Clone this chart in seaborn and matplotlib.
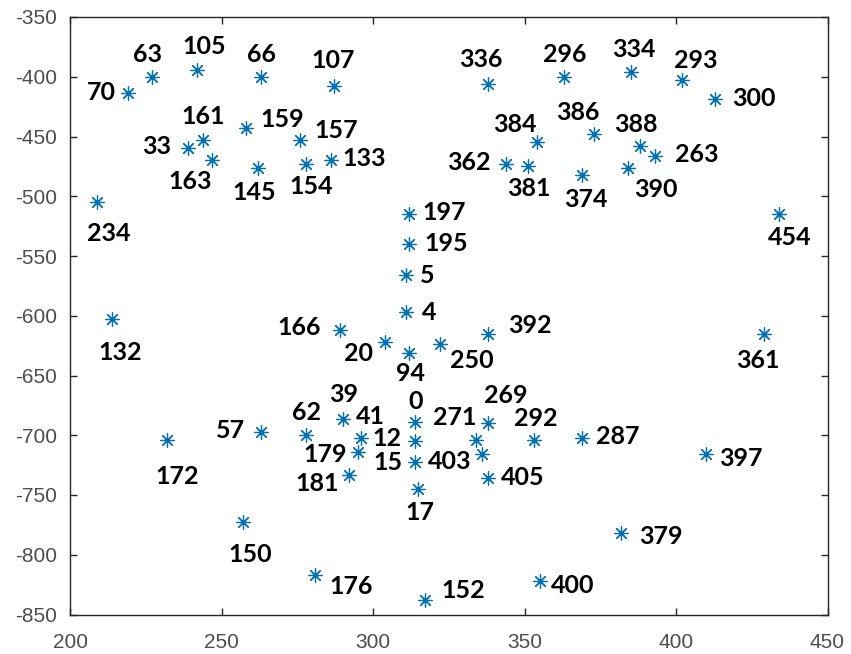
import matplotlib
matplotlib.use("Agg")
import matplotlib.pyplot as plt
import pandas as pd
import seaborn as sns

# landmark ids and their (x, y) positions
LABELS = [70, 63, 105, 66, 107, 161, 33, 163, 159, 145, 157, 154, 133, 234,
          336, 296, 334, 293, 300, 384, 386, 388, 263, 362, 381, 374, 390, 454,
          197, 195, 5, 4, 132, 166, 20, 94, 250, 392, 361,
          172, 57, 62, 39, 41, 179, 181, 0, 12, 15, 17, 150, 176, 152,
          269, 271, 403, 405, 292, 287, 397, 379, 400]
X = [219, 227, 242, 263, 287, 244, 239, 247, 258, 262, 276, 278, 286, 209,
     338, 363, 385, 402, 413, 354, 373, 388, 393, 344, 351, 369, 384, 434,
     312, 312, 311, 311, 214, 289, 304, 312, 322, 338, 429,
     232, 263, 278, 290, 296, 295, 292, 314, 314, 314, 315, 257, 281, 317,
     338, 334, 336, 338, 353, 369, 410, 382, 355]
Y = [-414, -400, -394, -400, -408, -453, -460, -470, -443, -476, -453, -473, -470, -505,
     -406, -400, -396, -403, -419, -455, -448, -458, -466, -473, -475, -482, -476, -515,
     -515, -540, -566, -597, -603, -612, -622, -631, -624, -615, -615,
     -704, -697, -700, -686, -702, -714, -733, -689, -705, -722, -745, -773, -817, -838,
     -690, -704, -716, -736, -704, -702, -716, -782, -822]

# where each id label sits relative to its marker (pixels, +y = down)
LABEL_OFFSETS = {
    70: (-26, -1), 63: (-4, -22), 105: (7, -23), 66: (1, -22), 107: (0, -26),
    161: (0, -24), 33: (-32, -2), 163: (-22, 21), 159: (36, -9), 145: (-4, 25),
    157: (36, -10), 154: (5, 23), 133: (34, -2), 234: (11, 31),
    336: (-7, -24), 296: (1, -22), 334: (3, -22), 293: (14, -20), 300: (38, -1),
    384: (-22, -18), 386: (-16, -22), 388: (-4, -22), 263: (42, -1), 362: (-37, -1),
    381: (1, 22), 374: (4, 25), 390: (28, 22), 454: (11, 23),
    197: (35, -2), 195: (37, -1), 5: (21, 0), 4: (23, 0), 132: (8, 33),
    166: (-40, -3), 20: (-27, 11), 94: (1, 21), 250: (32, 16), 392: (42, -8),
    361: (-6, 27), 172: (10, 36), 57: (-30, -1), 62: (0, -23), 39: (1, -24),
    41: (10, -21), 179: (-33, 3), 181: (-32, 9), 0: (0, -21), 12: (-28, -3),
    15: (-27, 1), 17: (1, 23), 150: (8, 32), 176: (36, 11), 152: (39, -10),
    269: (18, -28), 271: (-21, -23), 403: (-32, 7), 405: (35, -1), 292: (2, -22),
    287: (36, -1), 397: (35, 4), 379: (39, 3), 400: (33, 4),
}

MARKER_COLOR = '#0072BD'
AXIS_COLOR = '#262626'


def main():
    df = pd.DataFrame({'id': LABELS, 'x': X, 'y': Y})

    sns.set_style('ticks')
    plt.rcParams['font.family'] = ['Liberation Sans', 'DejaVu Sans']
    plt.rcParams['axes.unicode_minus'] = False

    fig = plt.figure(figsize=(8.51, 6.54), dpi=100)
    ax = fig.add_axes([70 / 851, 1 - 614.5 / 654, 757.5 / 851, 597.5 / 654])

    sns.scatterplot(data=df, x='x', y='y', ax=ax, marker=(8, 2, 0), s=95,
                    color=MARKER_COLOR, edgecolor=MARKER_COLOR, linewidth=0.9,
                    legend=False)

    for _, row in df.iterrows():
        dx, dy = LABEL_OFFSETS[row['id']]
        ax.annotate(str(row['id']), (row['x'], row['y']), xytext=(dx, -dy),
                    textcoords='offset pixels', ha='center', va='center',
                    fontsize=18, fontweight='bold', family='Lato', color='black')

    ax.set_xlim(200, 450)
    ax.set_ylim(-850, -350)
    ax.set_xticks(range(200, 451, 50))
    ax.set_yticks(range(-850, -349, 50))
    ax.set_xlabel('')
    ax.set_ylabel('')
    ax.tick_params(direction='in', length=5, width=1, color=AXIS_COLOR,
                   labelcolor='#4d4d4d', labelsize=15, top=True, right=True)
    ax.tick_params(axis='y', pad=9)
    ax.tick_params(axis='x', pad=13)
    for spine in ax.spines.values():
        spine.set_visible(True)
        spine.set_color(AXIS_COLOR)
        spine.set_linewidth(1.0)

    fig.savefig('out.png', dpi=100)
    plt.close(fig)


if __name__ == '__main__':
    main()
